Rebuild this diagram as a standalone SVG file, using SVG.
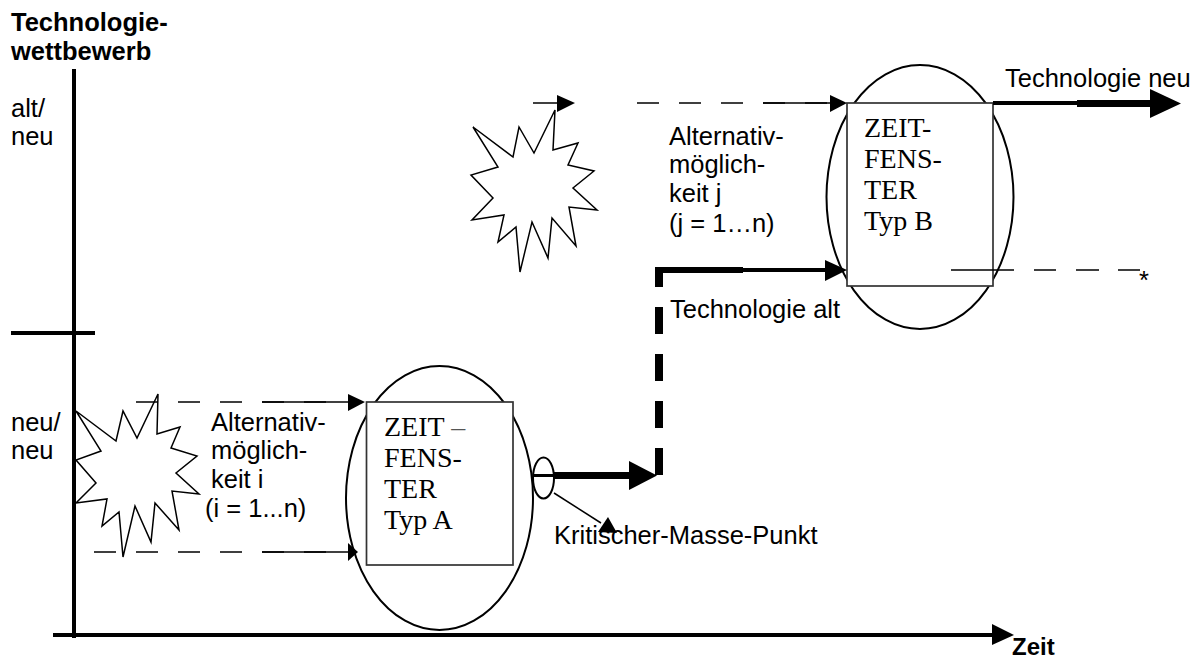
<svg xmlns="http://www.w3.org/2000/svg" width="1199" height="660" viewBox="0 0 1199 660">
<style>
.s{font-family:"Liberation Sans",Arial,sans-serif;font-size:25.5px;fill:#000}
.b{font-weight:bold}
.z{font-size:24px}
.t{font-family:"Liberation Serif","Times New Roman",serif;font-size:28px;fill:#000}
.o{fill:#fff;stroke:#000;stroke-width:2}
.star{fill:#fff;stroke:#000;stroke-width:1.5;stroke-linejoin:miter}
.r{fill:#fff;stroke:#333;stroke-width:1.7}
.l{fill:none;stroke:#000}
.d{stroke-dasharray:22 20}
</style>
<rect width="1199" height="660" fill="#fff"/>
<g id="axes">
<line class="l" x1="74" y1="69" x2="74" y2="638" stroke-width="4"/>
<line class="l" x1="53" y1="635" x2="995" y2="635" stroke-width="4"/>
<polygon points="992,624 1014,635 992,645" fill="#000"/>
<line class="l" x1="11" y1="333" x2="95" y2="333" stroke-width="4"/>
</g>
<g id="star-a"><polygon class="star" points="76,411 116,441 123,411 137,438 158,394 157,434 180,427 171,448 197,456 176,473 199,494 172,491 179,530 155,503 151,542 135,506 123,557 119,512 102,526 107,499 76,503 96,483 76,460 101,451"/></g>
<g id="star-b"><polygon class="star" points="473,127 513,157 519,127 534,153 555,110 553,150 578,143 568,165 594,171 573,188 597,210 569,207 576,246 552,218 548,258 532,222 520,272 516,227 498,242 504,215 472,220 493,198 471,175 498,167"/></g>
<g id="window-a">
<ellipse class="o" cx="439.5" cy="498" rx="93.5" ry="132"/>
<rect class="r" x="366.5" y="402" width="146.5" height="163"/>
<text class="t" x="384" y="436">ZEIT <tspan fill="#555">–</tspan></text>
<text class="t" x="384" y="467">FENS-</text>
<text class="t" x="384" y="498">TER</text>
<text class="t" x="384" y="529">Typ A</text>
</g>
<g id="window-b">
<ellipse class="o" cx="920" cy="197" rx="93.5" ry="132"/>
<rect class="r" x="847" y="103" width="146" height="183"/>
<text class="t" x="864" y="137">ZEIT-</text>
<text class="t" x="864" y="168">FENS-</text>
<text class="t" x="864" y="199">TER</text>
<text class="t" x="864" y="230">Typ B</text>
</g>
<g id="critical-point"><ellipse class="o" cx="543.5" cy="478" rx="10.5" ry="20.5"/></g>
<g id="connectors">
<line class="l d" x1="136" y1="402" x2="346" y2="402" stroke-width="1.5"/>
<line class="l" x1="262" y1="402" x2="350" y2="402" stroke-width="1.5"/>
<polygon points="348,394 365,402 348,411" fill="#000"/>
<line class="l d" x1="94" y1="552" x2="346" y2="552" stroke-width="1.5"/>
<line class="l" x1="262" y1="552" x2="350" y2="552" stroke-width="1.5"/>
<polygon points="348,543 358,552 348,561" fill="#000"/>
<line class="l" x1="533" y1="103" x2="560" y2="103" stroke-width="1.5"/>
<polygon points="557,95 575,103 557,112" fill="#000"/>
<line class="l d" x1="637" y1="103" x2="832" y2="103" stroke-width="1.5"/>
<line class="l" x1="763" y1="103" x2="832" y2="103" stroke-width="1.5"/>
<polygon points="830,95 847,103 830,112" fill="#000"/>
<line class="l" x1="993" y1="103" x2="1080" y2="103" stroke-width="4"/>
<line class="l" x1="1077" y1="103.5" x2="1152" y2="103.5" stroke-width="7"/>
<polygon points="1150,89 1181,103.5 1150,118" fill="#000"/>
<line class="l" x1="659" y1="270" x2="743" y2="270" stroke-width="6"/>
<line class="l" x1="743" y1="270" x2="828" y2="270" stroke-width="4"/>
<polygon points="825,260 847,270 825,281" fill="#000"/>
<line class="l" x1="659" y1="475" x2="659" y2="267" stroke-width="8" stroke-dasharray="27 20"/>
<line class="l" x1="533" y1="475.5" x2="554" y2="475.5" stroke-width="3"/>
<line class="l" x1="554" y1="475.5" x2="632" y2="475.5" stroke-width="7"/>
<polygon points="629,461 657,475.5 629,490" fill="#000"/>
<line class="l" x1="554" y1="493" x2="601" y2="523" stroke-width="1.5"/>
<polygon points="608,517 598,532 617,533" fill="#000"/>
<line class="l" x1="951" y1="270" x2="1140" y2="270" stroke-width="1.5" stroke-dasharray="63 20 22 20 23 19 22"/>
</g>
<g id="labels">
<text class="s b" x="11" y="31">Technologie-</text>
<text class="s b" x="11" y="60">wettbewerb</text>
<text class="s" x="11" y="117">alt/</text>
<text class="s" x="11" y="145">neu</text>
<text class="s" x="11" y="431">neu/</text>
<text class="s" x="11" y="459">neu</text>
<text class="s" x="211" y="431">Alternativ-</text>
<text class="s" x="211" y="459">möglich-</text>
<text class="s" x="211" y="488">keit i</text>
<text class="s" x="205" y="517">(i = 1...n)</text>
<text class="s" x="669" y="145">Alternativ-</text>
<text class="s" x="669" y="173">möglich-</text>
<text class="s" x="669" y="202">keit j</text>
<text class="s" x="669" y="232">(j = 1…n)</text>
<text class="s" x="670" y="318">Technologie alt</text>
<text class="s" x="554" y="544">Kritischer-Masse-Punkt</text>
<text class="s" x="1005" y="87">Technologie neu</text>
<text class="s b z" x="1012" y="655">Zeit</text>
<text class="s" x="1139" y="289">*</text>
</g>
</svg>
